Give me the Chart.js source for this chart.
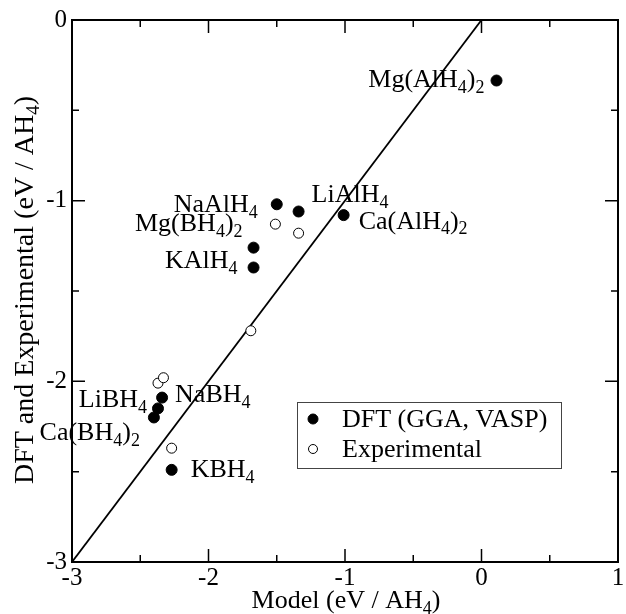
<!DOCTYPE html>
<html>
<head>
<meta charset="utf-8">
<script src="https://cdn.jsdelivr.net/npm/chart.js@4.4.1/dist/chart.umd.min.js"></script>
<style>
  html, body { margin: 0; padding: 0; background: #fff; }
</style>
</head>
<body>
<canvas id="chart" width="626" height="614"></canvas>
<script>
// data
const compounds = ['Mg(AlH4)2', 'NaAlH4', 'LiAlH4', 'Ca(AlH4)2', 'Mg(BH4)2', 'KAlH4', 'NaBH4', 'LiBH4', 'Ca(BH4)2', 'KBH4'];
const dftModel  = [0.11, -1.50, -1.34, -1.01, -1.67, -1.67, -2.34, -2.37, -2.40, -2.27];
const dftEnergy = [-0.335, -1.02, -1.06, -1.08, -1.26, -1.37, -2.09, -2.15, -2.20, -2.49];
const expModel  = [-1.51, -1.34, -1.69, -2.37, -2.33, -2.27];
const expEnergy = [-1.13, -1.18, -1.72, -2.01, -1.98, -2.37];
const lineEnds  = [-3, 0];
const xRange = [-3, 1];
const yRange = [-3, 0];

// where each name sits next to its point (px offset of text centre, alignment)
const labelPlacement = [
    [-12, -2, 'right'], [-19, -1, 'right'], [13, -18, 'left'], [15, 5, 'left'], [-11, -25, 'right'],
    [-16, -8, 'right'], [13, -4, 'left'], [-11, -10, 'right'], [-14, 14, 'right'], [19, -1, 'left']
];

const FONT = '"Liberation Serif", "Times New Roman", serif';
const SIZE = 26;

function toPoints(xs, ys) {
    return xs.map((x, i) => ({ x: x, y: ys[i] }));
}

// formula text: every digit becomes a subscript
function formulaWidth(ctx, text, size) {
    let w = 0;
    for (const ch of text) {
        ctx.font = Math.round(/\d/.test(ch) ? size * 0.68 : size) + 'px ' + FONT;
        w += ctx.measureText(ch).width;
    }
    return w;
}
function drawFormula(ctx, text, x, baseline, size) {
    let cx = x;
    for (const ch of text) {
        const sub = /\d/.test(ch);
        ctx.font = Math.round(sub ? size * 0.68 : size) + 'px ' + FONT;
        ctx.fillText(ch, cx, baseline + (sub ? size * 0.22 : 0));
        cx += ctx.measureText(ch).width;
    }
}

const decorations = {
    id: 'decorations',
    beforeDatasetsDraw(chart) {
        const ctx = chart.ctx;
        const xs = chart.scales.x, ys = chart.scales.y;
        ctx.save();
        ctx.fillStyle = '#000';
        ctx.textAlign = 'left';
        ctx.textBaseline = 'alphabetic';
        compounds.forEach((name, i) => {
            const [dx, dy, align] = labelPlacement[i];
            const px = xs.getPixelForValue(dftModel[i]) + dx;
            const py = ys.getPixelForValue(dftEnergy[i]) + dy + SIZE * 0.33;
            const w = formulaWidth(ctx, name, SIZE);
            drawFormula(ctx, name, align === 'right' ? px - w : px, py, SIZE);
        });
        ctx.restore();
    },
    afterDraw(chart) {
        const ctx = chart.ctx;
        const a = chart.chartArea;
        const xs = chart.scales.x, ys = chart.scales.y;
        ctx.save();
        ctx.strokeStyle = '#000';
        ctx.lineWidth = 2;
        ctx.strokeRect(a.left, a.top, a.right - a.left, a.bottom - a.top);

        // inward ticks on all four sides
        ctx.lineWidth = 1.5;
        ctx.beginPath();
        xs.ticks.forEach(t => {
            const p = xs.getPixelForValue(t.value);
            const len = Number.isInteger(t.value) ? 13 : 7;
            ctx.moveTo(p, a.bottom); ctx.lineTo(p, a.bottom - len);
            ctx.moveTo(p, a.top); ctx.lineTo(p, a.top + len);
        });
        ys.ticks.forEach(t => {
            const p = ys.getPixelForValue(t.value);
            const len = Number.isInteger(t.value) ? 13 : 7;
            ctx.moveTo(a.left, p); ctx.lineTo(a.left + len, p);
            ctx.moveTo(a.right, p); ctx.lineTo(a.right - len, p);
        });
        ctx.stroke();

        // axis titles
        ctx.fillStyle = '#000';
        ctx.textBaseline = 'alphabetic';
        const xt = 'Model (eV / AH4)';
        drawFormula(ctx, xt, (a.left + a.right) / 2 - formulaWidth(ctx, xt, SIZE) / 2 + 1, 608, SIZE);
        const yt = 'DFT and Experimental (eV / AH4)';
        ctx.translate(33, (a.top + a.bottom) / 2 - 1);
        ctx.rotate(-Math.PI / 2);
        drawFormula(ctx, yt, -formulaWidth(ctx, yt, 28) / 2, 0, 28);
        ctx.setTransform(1, 0, 0, 1, 0, 0);

        // legend box
        const lx = 297, ly = 402, lw = 264, lh = 66;
        ctx.fillStyle = '#fff';
        ctx.fillRect(lx, ly, lw, lh);
        ctx.strokeStyle = '#444';
        ctx.lineWidth = 1;
        ctx.strokeRect(lx + 0.5, ly + 0.5, lw, lh);
        chart.data.datasets.filter(d => d.type !== 'line').forEach((d, i) => {
            const cy = ly + 17 + i * 30;
            ctx.beginPath();
            ctx.arc(lx + 16, cy, i === 0 ? 5 : 4.5, 0, Math.PI * 2);
            ctx.fillStyle = d.backgroundColor;
            ctx.fill();
            ctx.strokeStyle = '#000';
            ctx.lineWidth = 1;
            ctx.stroke();
            ctx.fillStyle = '#000';
            ctx.font = SIZE + 'px ' + FONT;
            ctx.fillText(d.label, lx + 45, cy + 8);
        });
        ctx.restore();
    }
};

new Chart(document.getElementById('chart'), {
    type: 'scatter',
    data: {
        datasets: [
            {
                label: 'DFT (GGA, VASP)',
                data: toPoints(dftModel, dftEnergy),
                backgroundColor: '#000',
                borderColor: '#000',
                borderWidth: 1,
                pointRadius: 5.5
            },
            {
                label: 'Experimental',
                data: toPoints(expModel, expEnergy),
                backgroundColor: '#fff',
                borderColor: '#000',
                borderWidth: 1,
                pointRadius: 5
            },
            {
                type: 'line',
                label: 'y = x',
                data: toPoints(lineEnds, lineEnds),
                borderColor: '#000',
                borderWidth: 1.8,
                pointRadius: 0,
                fill: false
            }
        ]
    },
    options: {
        responsive: false,
        animation: false,
        layout: { padding: { left: 0, top: 16, right: 8, bottom: 0 } },
        plugins: {
            legend: { display: false },
            tooltip: { enabled: false }
        },
        scales: {
            x: {
                type: 'linear',
                min: xRange[0],
                max: xRange[1],
                grid: { display: false, drawTicks: false },
                border: { display: false },
                ticks: {
                    stepSize: 0.5,
                    padding: 1,
                    maxRotation: 0,
                    color: '#000',
                    font: { family: FONT, size: 25 },
                    callback: v => Number.isInteger(v) ? String(v) : ''
                },
                afterFit: s => { s.height = 52; }
            },
            y: {
                type: 'linear',
                min: yRange[0],
                max: yRange[1],
                grid: { display: false, drawTicks: false },
                border: { display: false },
                ticks: {
                    stepSize: 0.5,
                    padding: 5,
                    color: '#000',
                    font: { family: FONT, size: 25 },
                    callback: v => Number.isInteger(v) ? String(v) : ''
                },
                afterFit: s => { s.width = 72; }
            }
        }
    },
    plugins: [decorations]
});
</script>
</body>
</html>
